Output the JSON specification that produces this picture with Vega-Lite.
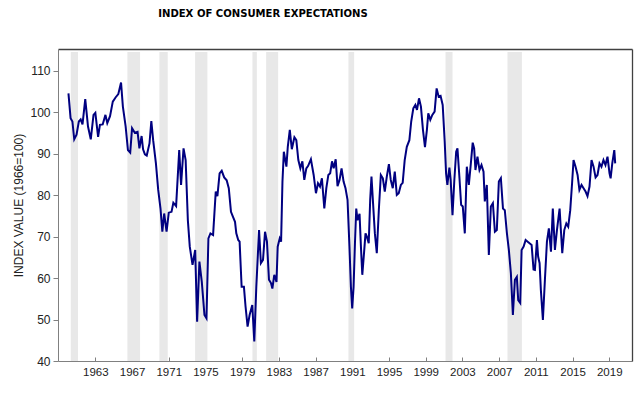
{
  "$schema": "https://vega.github.io/schema/vega-lite/v6.json",
  "width": 574,
  "height": 312,
  "autosize": {"type": "none"},
  "padding": {"left": 58, "top": 49, "right": 8, "bottom": 33},
  "background": "white",
  "title": {"text": "INDEX OF CONSUMER EXPECTATIONS", "font": "Liberation Sans Narrow, DejaVu Sans Condensed, sans-serif", "fontSize": 11.2, "fontWeight": "bold", "color": "#000000", "anchor": "middle", "frame": "group", "dx": -82, "offset": 19, "baseline": "bottom"},
  "config": {
    "view": {"stroke": null},
    "axis": {"grid": false, "domainColor": "#808080", "tickColor": "#808080", "labelColor": "#222222", "labelFont": "Liberation Sans, Arial, sans-serif", "titleFont": "Liberation Sans, Arial, sans-serif", "titleFontWeight": "normal", "titleColor": "#222222"},
    "axisX": {"labelFontSize": 11.5, "tickSize": -4, "labelPadding": 9},
    "axisY": {"labelFontSize": 12, "tickSize": 5, "labelPadding": 3, "titleFontSize": 12}
  },
  "resolve": {"axis": {"x": "independent", "y": "independent"}},
  "datasets": {
    "rec": [
      {"s": 1960.32, "e": 1961.11},
      {"s": 1966.49, "e": 1967.87},
      {"s": 1969.98, "e": 1970.89},
      {"s": 1973.87, "e": 1975.21},
      {"s": 1980.12, "e": 1980.6},
      {"s": 1981.61, "e": 1982.92},
      {"s": 1990.58, "e": 1991.2},
      {"s": 2001.16, "e": 2001.92},
      {"s": 2007.91, "e": 2009.48}
    ],
    "box": [{"x0": 1958.93, "x1": 2021.48, "y0": 40, "y1": 115.3}],
    "idx": [
      {"t":1960.07,"v":104.6},{"t":1960.3,"v":98.6},{"t":1960.5,"v":97.8},{"t":1960.7,"v":93.5},{"t":1960.95,"v":94.6},{"t":1961.2,"v":97.8},{"t":1961.4,"v":98.3},{"t":1961.6,"v":97.1},{"t":1961.9,"v":103.2},{"t":1962.2,"v":96.6},{"t":1962.5,"v":93.5},{"t":1962.8,"v":99.4},{"t":1963.0,"v":99.9},{"t":1963.3,"v":94.1},{"t":1963.5,"v":97},{"t":1963.8,"v":97.1},{"t":1964.1,"v":99.4},{"t":1964.3,"v":97.4},{"t":1964.6,"v":99.1},{"t":1964.9,"v":102.6},{"t":1965.2,"v":103.6},{"t":1965.5,"v":104.4},{"t":1965.8,"v":107.2},{"t":1966.0,"v":101.4},{"t":1966.3,"v":96.6},{"t":1966.55,"v":90.9},{"t":1966.8,"v":90.3},{"t":1967.0,"v":96.2},{"t":1967.3,"v":95.1},{"t":1967.6,"v":95.3},{"t":1967.8,"v":91.3},{"t":1968.04,"v":94.3},{"t":1968.2,"v":91.1},{"t":1968.4,"v":89.9},{"t":1968.6,"v":89.6},{"t":1968.9,"v":92.5},{"t":1969.1,"v":97.9},{"t":1969.3,"v":93.3},{"t":1969.6,"v":87.7},{"t":1969.85,"v":81.3},{"t":1970.1,"v":76.8},{"t":1970.3,"v":71.2},{"t":1970.5,"v":75.6},{"t":1970.76,"v":71.2},{"t":1971.0,"v":75.8},{"t":1971.3,"v":76},{"t":1971.5,"v":78.2},{"t":1971.8,"v":77.4},
      {"t":1972.14,"v":90.9},{"t":1972.34,"v":82.5},{"t":1972.61,"v":91.3},{"t":1972.84,"v":88.5},{"t":1973.08,"v":74},{"t":1973.29,"v":67.6},{"t":1973.59,"v":63.2},{"t":1973.88,"v":66.8},{"t":1974.09,"v":49.5},{"t":1974.34,"v":64},{"t":1974.6,"v":59.1},{"t":1974.89,"v":51.1},{"t":1975.11,"v":50.3},{"t":1975.32,"v":69.6},{"t":1975.54,"v":70.8},{"t":1975.83,"v":70.4},{"t":1976.12,"v":80.9},{"t":1976.3,"v":79.8},{"t":1976.54,"v":85.3},{"t":1976.77,"v":85.9},{"t":1977.04,"v":84.3},{"t":1977.31,"v":83.6},{"t":1977.54,"v":81.7},{"t":1977.78,"v":76},{"t":1978.0,"v":74.8},{"t":1978.22,"v":73.6},{"t":1978.36,"v":70.8},{"t":1978.57,"v":69.2},{"t":1978.72,"v":68.8},{"t":1978.94,"v":57.9},{"t":1979.19,"v":57.9},{"t":1979.37,"v":53.1},{"t":1979.59,"v":48.3},{"t":1979.81,"v":51.1},{"t":1980.1,"v":53.5},{"t":1980.32,"v":44.7},{"t":1980.54,"v":57.9},{"t":1980.84,"v":71.6},{"t":1981.04,"v":63.6},{"t":1981.27,"v":64.4},{"t":1981.49,"v":71.2},{"t":1981.7,"v":68.8},{"t":1981.92,"v":59.6},{"t":1982.14,"v":58.8},{"t":1982.29,"v":57.5},{"t":1982.5,"v":60.8},{"t":1982.74,"v":59.1},{"t":1982.87,"v":67.6},{"t":1983.09,"v":69.6},{"t":1983.24,"v":68.8},{"t":1983.39,"v":83.3},{"t":1983.54,"v":90.5},{"t":1983.82,"v":86.9},{"t":1983.97,"v":91.7},{"t":1984.19,"v":95.8},{"t":1984.41,"v":91.1},
      {"t":1984.69,"v":94},{"t":1984.9,"v":93.3},{"t":1985.12,"v":88.5},{"t":1985.34,"v":86.5},{"t":1985.56,"v":88.2},{"t":1985.77,"v":83.7},{"t":1985.99,"v":86.5},{"t":1986.19,"v":87.1},{"t":1986.49,"v":88.7},{"t":1986.79,"v":84.9},{"t":1987.04,"v":80.5},{"t":1987.26,"v":82.9},{"t":1987.48,"v":82.1},{"t":1987.69,"v":84.1},{"t":1987.95,"v":76.8},{"t":1988.17,"v":81.7},{"t":1988.39,"v":84.9},{"t":1988.59,"v":85.3},{"t":1988.79,"v":88.2},{"t":1988.97,"v":86.5},{"t":1989.19,"v":88.7},{"t":1989.39,"v":82.2},{"t":1989.61,"v":83.7},{"t":1989.83,"v":86.5},{"t":1990.05,"v":83.3},{"t":1990.26,"v":81.7},{"t":1990.48,"v":78.9},{"t":1990.69,"v":67.6},{"t":1990.85,"v":57.9},{"t":1990.99,"v":52.7},{"t":1991.14,"v":57.9},{"t":1991.29,"v":68.4},{"t":1991.43,"v":76.8},{"t":1991.57,"v":74},{"t":1991.79,"v":75.5},{"t":1991.94,"v":67.6},{"t":1992.09,"v":60.8},{"t":1992.29,"v":66.4},{"t":1992.44,"v":70.8},{"t":1992.59,"v":70},{"t":1992.79,"v":68.4},{"t":1992.95,"v":78.9},{"t":1993.09,"v":84.5},{"t":1993.24,"v":78.9},{"t":1993.46,"v":70.8},{"t":1993.67,"v":66},{"t":1993.89,"v":76.4},{"t":1994.11,"v":84.9},{"t":1994.33,"v":84.1},{"t":1994.54,"v":80.9},{"t":1994.76,"v":84.5},{"t":1994.99,"v":87.5},{"t":1995.19,"v":83.7},{"t":1995.41,"v":81.7},{"t":1995.63,"v":85.7},{"t":1995.85,"v":80.1},{"t":1996.06,"v":80.5},{"t":1996.29,"v":82.5},{"t":1996.49,"v":83},{"t":1996.71,"v":88.5},{"t":1996.94,"v":91.7},
      {"t":1997.22,"v":93.3},{"t":1997.42,"v":97.8},{"t":1997.65,"v":101},{"t":1997.87,"v":101.8},{"t":1998.05,"v":100.6},{"t":1998.27,"v":103.4},{"t":1998.48,"v":101.4},{"t":1998.7,"v":95.8},{"t":1998.92,"v":91.6},{"t":1999.13,"v":95.8},{"t":1999.28,"v":99.8},{"t":1999.5,"v":98.2},{"t":1999.72,"v":99.4},{"t":1999.97,"v":100.2},{"t":2000.19,"v":105.8},{"t":2000.41,"v":103.8},{"t":2000.62,"v":104},{"t":2000.85,"v":101.8},{"t":2001.07,"v":92.9},{"t":2001.22,"v":85.3},{"t":2001.36,"v":82.5},{"t":2001.58,"v":86.7},{"t":2001.72,"v":83.7},{"t":2001.92,"v":75.2},{"t":2002.12,"v":83.7},{"t":2002.32,"v":90.5},{"t":2002.46,"v":91.3},{"t":2002.68,"v":84.1},{"t":2002.86,"v":77.7},{"t":2003.04,"v":77.3},{"t":2003.26,"v":70.8},{"t":2003.48,"v":86.9},{"t":2003.7,"v":82.5},{"t":2003.92,"v":87.7},{"t":2004.12,"v":92.7},{"t":2004.28,"v":91.3},{"t":2004.42,"v":86.1},{"t":2004.64,"v":89.3},{"t":2004.86,"v":86.1},{"t":2005.08,"v":87.3},{"t":2005.3,"v":85.7},{"t":2005.44,"v":78.5},{"t":2005.66,"v":82.5},{"t":2005.88,"v":65.6},{"t":2006.1,"v":77.3},{"t":2006.32,"v":78.1},{"t":2006.54,"v":71.2},{"t":2006.75,"v":71.6},{"t":2006.97,"v":83.3},{"t":2007.19,"v":84.1},{"t":2007.42,"v":76.8},{"t":2007.62,"v":76.4},{"t":2007.85,"v":70.8},{"t":2008.06,"v":66.8},{"t":2008.28,"v":61.2},{"t":2008.5,"v":51.1},{"t":2008.72,"v":59.6},{"t":2008.93,"v":60.3},{"t":2009.08,"v":54.7},{"t":2009.3,"v":54},
      {"t":2009.45,"v":66.8},{"t":2009.67,"v":67.6},{"t":2009.89,"v":69.2},{"t":2010.11,"v":68.8},{"t":2010.32,"v":68.4},{"t":2010.54,"v":68},{"t":2010.75,"v":62.1},{"t":2010.9,"v":62},{"t":2011.12,"v":69.2},{"t":2011.25,"v":65.2},{"t":2011.41,"v":63.6},{"t":2011.55,"v":57.1},{"t":2011.77,"v":49.9},{"t":2011.99,"v":59.6},{"t":2012.21,"v":68.8},{"t":2012.42,"v":72},{"t":2012.65,"v":66.4},{"t":2012.85,"v":76.8},{"t":2013.08,"v":66.8},{"t":2013.3,"v":71.6},{"t":2013.59,"v":76.8},{"t":2013.88,"v":66},{"t":2014.1,"v":71.6},{"t":2014.32,"v":73.2},{"t":2014.53,"v":72.4},{"t":2014.75,"v":76.4},{"t":2014.95,"v":82.9},{"t":2015.11,"v":88.5},{"t":2015.33,"v":86.9},{"t":2015.55,"v":84.9},{"t":2015.75,"v":81.3},{"t":2015.98,"v":82.5},{"t":2016.2,"v":81.7},{"t":2016.42,"v":80.9},{"t":2016.63,"v":79.8},{"t":2016.85,"v":82.1},{"t":2017.07,"v":88.5},{"t":2017.29,"v":86.9},{"t":2017.51,"v":84.3},{"t":2017.72,"v":84.9},{"t":2017.94,"v":87.7},{"t":2018.15,"v":86.9},{"t":2018.37,"v":88.5},{"t":2018.59,"v":87.3},{"t":2018.81,"v":89.3},{"t":2019.03,"v":85.3},{"t":2019.15,"v":84.1},{"t":2019.33,"v":87.7},{"t":2019.55,"v":90.9},{"t":2019.65,"v":87.7}
    ]
  },
  "layer": [
    {
      "data": {"name": "rec"},
      "mark": {"type": "rect", "color": "#e8e8e8"},
      "encoding": {
        "x": {"field": "s", "type": "quantitative", "scale": {"domain": [1958.93, 2021.48], "nice": false, "zero": false}, "axis": {"orient": "bottom", "values": [1963,1967,1971,1975,1979,1983,1987,1991,1995,1999,2003,2007,2011,2015,2019], "format": "d", "title": null}},
        "x2": {"field": "e"},
        "y": {"datum": 40, "type": "quantitative", "scale": {"domain": [40, 115.3], "nice": false, "zero": false}, "axis": {"orient": "left", "values": [40,50,60,70,80,90,100,110], "title": "INDEX VALUE (1966=100)", "titleAngle": 270, "titleBaseline": "middle", "titleX": -40, "titleY": 156}},
        "y2": {"datum": 114.6}
      }
    },
    {
      "data": {"name": "idx"},
      "mark": {"type": "line", "color": "#000080", "strokeWidth": 2},
      "encoding": {
        "x": {"field": "t", "type": "quantitative", "axis": null},
        "y": {"field": "v", "type": "quantitative", "axis": null}
      }
    },
    {
      "data": {"name": "box"},
      "mark": {"type": "rect", "fillOpacity": 0, "strokeOpacity": 0},
      "encoding": {
        "x": {"field": "x0", "type": "quantitative", "axis": {"orient": "top", "labels": false, "ticks": false, "title": null, "domainColor": "#404040", "domainWidth": 1.3}},
        "x2": {"field": "x1"},
        "y": {"field": "y0", "type": "quantitative", "axis": {"orient": "right", "labels": false, "ticks": false, "title": null, "domainColor": "#404040", "domainWidth": 1.3}},
        "y2": {"field": "y1"}
      }
    }
  ]
}
